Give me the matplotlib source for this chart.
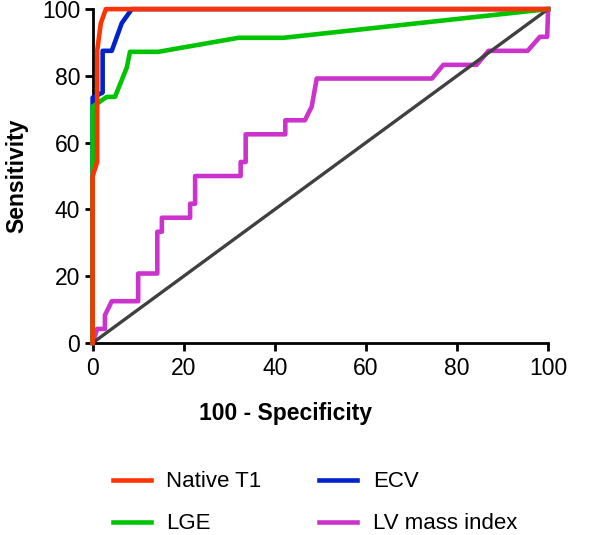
import matplotlib
matplotlib.use("Agg")
import matplotlib.pyplot as plt

plt.rcParams['font.family'] = ['Liberation Sans', 'DejaVu Sans']

# ROC curves (100 - specificity, sensitivity)
t1_x = [0, 0, 1.0, 1.0, 1.8, 2.9, 100]
t1_y = [0, 50, 54.2, 87.5, 95.8, 100, 100]

ecv_x = [0, 0, 2.2, 2.2, 4.2, 6.4, 8.6, 100]
ecv_y = [0, 73.5, 75.0, 87.5, 87.5, 95.8, 100, 100]

lge_x = [0, 0, 3.1, 4.9, 7.5, 8.2, 14.4, 32.0, 41.9, 100]
lge_y = [0, 70.8, 73.7, 73.7, 82.5, 87.2, 87.2, 91.4, 91.4, 100]

lvm_x = [0, 1.0, 2.7, 2.7, 4.2, 10.0, 10.0, 14.2, 14.2, 15.2, 15.2, 21.4, 21.4,
         22.5, 22.5, 32.5, 32.5, 33.6, 33.6, 42.3, 42.3, 46.6, 48.1, 49.2, 74.5,
         77.0, 84.3, 86.9, 95.5, 98.2, 99.8, 100]
lvm_y = [0, 4.2, 4.2, 8.3, 12.5, 12.5, 20.8, 20.8, 33.3, 33.3, 37.5, 37.5, 41.7,
         41.7, 50.0, 50.0, 54.2, 54.2, 62.5, 62.5, 66.7, 66.7, 70.8, 79.2, 79.2,
         83.3, 83.3, 87.5, 87.5, 91.7, 91.7, 100]

ref_x = [0, 100]
ref_y = [0, 100]

fig = plt.figure(figsize=(5.9, 5.35), dpi=100)
ax = fig.add_axes([0.157, 0.359, 0.772, 0.624])

lw = 3.3
ax.plot(lvm_x, lvm_y, color="#cc33cc", lw=lw, label="LV mass index", zorder=2)
ax.plot(ref_x, ref_y, color="#404040", lw=2.4, zorder=3)
ax.plot(ecv_x, ecv_y, color="#0022cc", lw=lw, label="ECV", zorder=4)
ax.plot(lge_x, lge_y, color="#00c400", lw=lw, label="LGE", zorder=5)
ax.plot(t1_x, t1_y, color="#ff3300", lw=lw, label="Native T1", zorder=6)

ax.set_xlim(0, 100)
ax.set_ylim(0, 100)
ax.set_xticks([0, 20, 40, 60, 80, 100])
ax.set_yticks([0, 20, 40, 60, 80, 100])
ax.spines['top'].set_visible(False)
ax.spines['right'].set_visible(False)
for s in ['left', 'bottom']:
    ax.spines[s].set_linewidth(2)
ax.tick_params(direction="out", length=6, width=2, labelsize=16.5)
ax.tick_params(axis="x", pad=4)
ax.tick_params(axis="y", pad=3)
for line in ax.get_lines():
    line.set_clip_on(False)

ax.set_xlabel("100 - Specificity", fontsize=16.5, fontweight="bold")
ax.xaxis.set_label_coords(0.423, -0.176)
ax.set_ylabel("Sensitivity", fontsize=16.5, fontweight="bold", labelpad=10)

h, l = ax.get_legend_handles_labels()
order = ["Native T1", "LGE", "ECV", "LV mass index"]
hs = [h[l.index(n)] for n in order]
fig.legend(hs, order, loc="center", bbox_to_anchor=(0.534, 0.06), ncol=2,
           frameon=False, fontsize=16, handlelength=1.7, handletextpad=0.7,
           columnspacing=2.6, labelspacing=0.95)

fig.savefig("out.png", dpi=100)
